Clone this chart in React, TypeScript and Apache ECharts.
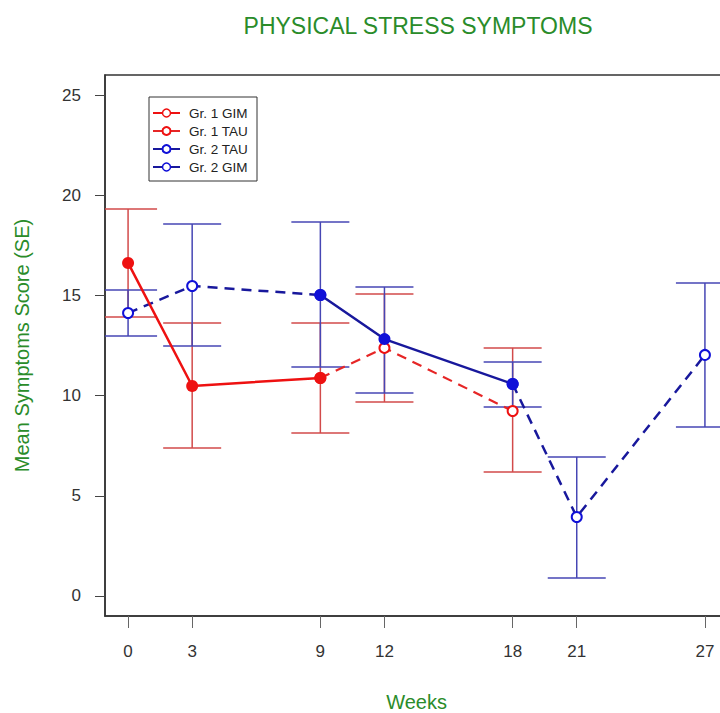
import React, { useEffect, useRef } from "react";
import * as echarts from "echarts";

// ---- data ----
const weekTicks = [0, 3, 9, 12, 18, 21, 27];
const scoreTicks = [0, 5, 10, 15, 20, 25];

// Group 1 (red)
const g1Weeks = [0, 3, 9, 12, 18];
const g1Mean = [16.62, 10.48, 10.88, 12.38, 9.23];
const g1Lower = [13.92, 7.38, 8.13, 9.68, 6.19];
const g1Upper = [19.31, 13.62, 13.62, 15.07, 12.38];
// Group 2 (blue)
const g2Weeks = [0, 3, 9, 12, 18, 21, 27];
const g2Mean = [14.12, 15.47, 15.02, 12.82, 10.58, 3.94, 12.03];
const g2Lower = [12.97, 12.48, 11.43, 10.13, 9.43, 0.9, 8.43];
const g2Upper = [15.27, 18.56, 18.66, 15.42, 11.68, 6.94, 15.62];

// phase segments (week ranges)
const g1GimWeeks = [0, 3, 9];
const g1TauWeeks = [9, 12, 18];
const g2TauWeeksA = [0, 3, 9];
const g2GimWeeks = [9, 12, 18];
const g2TauWeeksB = [18, 21, 27];

const RED = "#ee1111";
const RED_BAR = "#d24a4a";
const BLUE = "#1010d8";
const BLUE_LINE = "#18189c";
const BLUE_BAR = "#4646b4";
const GREEN = "#2a8c2a";
const FONT = "Liberation Sans, Arial, sans-serif";

function pick(weeks: number[], mean: number[], sel: number[]) {
  return sel.map((w) => {
    const i = weeks.indexOf(w);
    return [w, mean[i]];
  });
}

function errData(weeks: number[], lo: number[], hi: number[]) {
  return weeks.map((w, i) => [w, lo[i], hi[i]]);
}

function errSeries(data: number[][], color: string) {
  return {
    type: "custom",
    z: 1,
    clip: true,
    silent: true,
    data,
    encode: { x: 0, y: [1, 2] },
    renderItem: (params: any, api: any) => {
      const x = api.value(0);
      const lo = api.coord([x, api.value(1)]);
      const hi = api.coord([x, api.value(2)]);
      const half = 29;
      const style = { stroke: color, lineWidth: 1.5 };
      return {
        type: "group",
        children: [
          { type: "line", shape: { x1: lo[0], y1: lo[1], x2: hi[0], y2: hi[1] }, style },
          { type: "line", shape: { x1: hi[0] - half, y1: hi[1], x2: hi[0] + half, y2: hi[1] }, style },
          { type: "line", shape: { x1: lo[0] - half, y1: lo[1], x2: lo[0] + half, y2: lo[1] }, style },
        ],
      };
    },
  };
}

export default function App() {
  const ref = useRef<HTMLDivElement>(null);
  useEffect(() => {
    if (!ref.current) return;
    const chart = echarts.init(ref.current, undefined, { renderer: "svg" });
    const dashed = [10, 7];
    chart.setOption({
      animation: false,
      backgroundColor: "#ffffff",
      title: {
        text: "PHYSICAL STRESS SYMPTOMS",
        left: 413,
        textAlign: "center",
        top: 9,
        textStyle: { color: GREEN, fontFamily: FONT, fontSize: 23, fontWeight: "normal" },
      },
      grid: {
        left: 105,
        right: 32,
        top: 75,
        bottom: 97,
        containLabel: false,
        outerBoundsMode: "none",
        show: true,
        borderColor: "#333",
        borderWidth: 1.5,
        backgroundColor: "transparent",
      },
      legend: {
        orient: "vertical",
        left: 149,
        top: 97,
        padding: [9, 9, 7, 3],
        itemGap: 4,
        itemWidth: 27,
        itemHeight: 10,
        borderColor: "#333",
        borderWidth: 1,
        textStyle: { fontFamily: FONT, fontSize: 13.5, color: "#222", padding: [0, 0, 0, 4] },
        data: [
          { name: "Gr. 1 GIM", itemStyle: { color: "#fff", borderColor: RED, borderWidth: 1.5 } },
          { name: "Gr. 1 TAU", itemStyle: { color: RED } },
          { name: "Gr. 2 TAU", itemStyle: { color: BLUE } },
          { name: "Gr. 2 GIM", itemStyle: { color: "#fff", borderColor: BLUE, borderWidth: 1.5 } },
        ],
      },
      xAxis: {
        type: "value",
        min: -1.08,
        max: 28.08,
        name: "Weeks",
        nameLocation: "middle",
        nameGap: 76,
        nameTextStyle: { color: GREEN, fontFamily: FONT, fontSize: 20 },
        axisLine: { show: true, onZero: false, lineStyle: { color: "#333", width: 1.5 } },
        axisTick: { show: true, length: 12, customValues: weekTicks, lineStyle: { color: "#666" } },
        axisLabel: {
          customValues: weekTicks,
          margin: 27,
          color: "#333",
          fontFamily: FONT,
          fontSize: 17,
        },
        splitLine: { show: false },
      },
      yAxis: {
        type: "value",
        min: -1,
        max: 26,
        name: "Mean Symptoms Score (SE)",
        nameLocation: "middle",
        nameRotate: 90,
        nameGap: 73,
        nameTextStyle: { color: GREEN, fontFamily: FONT, fontSize: 20 },
        axisLine: { show: true, onZero: false, lineStyle: { color: "#333", width: 1.5 } },
        axisTick: { show: true, length: 10, customValues: scoreTicks, lineStyle: { color: "#444" } },
        axisLabel: {
          customValues: scoreTicks,
          margin: 24,
          color: "#333",
          fontFamily: FONT,
          fontSize: 17,
        },
        splitLine: { show: false },
      },
      series: [
        errSeries(errData(g1Weeks, g1Lower, g1Upper), RED_BAR),
        errSeries(errData(g2Weeks, g2Lower, g2Upper), BLUE_BAR),
        {
          name: "Gr. 1 TAU",
          type: "line",
          z: 2,
          data: pick(g1Weeks, g1Mean, g1TauWeeks),
          symbol: "emptyCircle",
          symbolSize: 10,
          itemStyle: { color: RED, borderWidth: 2 },
          lineStyle: { color: "#e62626", width: 2.2, type: dashed },
        },
        {
          name: "Gr. 2 TAU",
          type: "line",
          z: 2,
          data: pick(g2Weeks, g2Mean, g2TauWeeksA),
          symbol: "emptyCircle",
          symbolSize: 10,
          itemStyle: { color: BLUE, borderWidth: 2 },
          lineStyle: { color: BLUE_LINE, width: 2.5, type: dashed },
        },
        {
          name: "Gr. 2 TAU",
          type: "line",
          z: 2,
          data: pick(g2Weeks, g2Mean, g2TauWeeksB),
          symbol: "emptyCircle",
          symbolSize: 10,
          itemStyle: { color: BLUE, borderWidth: 2 },
          lineStyle: { color: BLUE_LINE, width: 2.5, type: dashed },
        },
        {
          name: "Gr. 1 GIM",
          type: "line",
          z: 3,
          data: pick(g1Weeks, g1Mean, g1GimWeeks),
          symbol: "circle",
          symbolSize: 12,
          itemStyle: { color: RED },
          lineStyle: { color: RED, width: 2.5 },
        },
        {
          name: "Gr. 2 GIM",
          type: "line",
          z: 3,
          data: pick(g2Weeks, g2Mean, g2GimWeeks),
          symbol: "circle",
          symbolSize: 12,
          itemStyle: { color: BLUE },
          lineStyle: { color: BLUE_LINE, width: 2.5 },
        },
      ],
    });
    return () => chart.dispose();
  }, []);
  return (
    <div
      style={{
        position: "fixed",
        left: 0,
        top: 0,
        width: 720,
        height: 713,
        overflow: "hidden",
        background: "#fff",
      }}
    >
      <div ref={ref} style={{ width: 760, height: 713 }} />
    </div>
  );
}
